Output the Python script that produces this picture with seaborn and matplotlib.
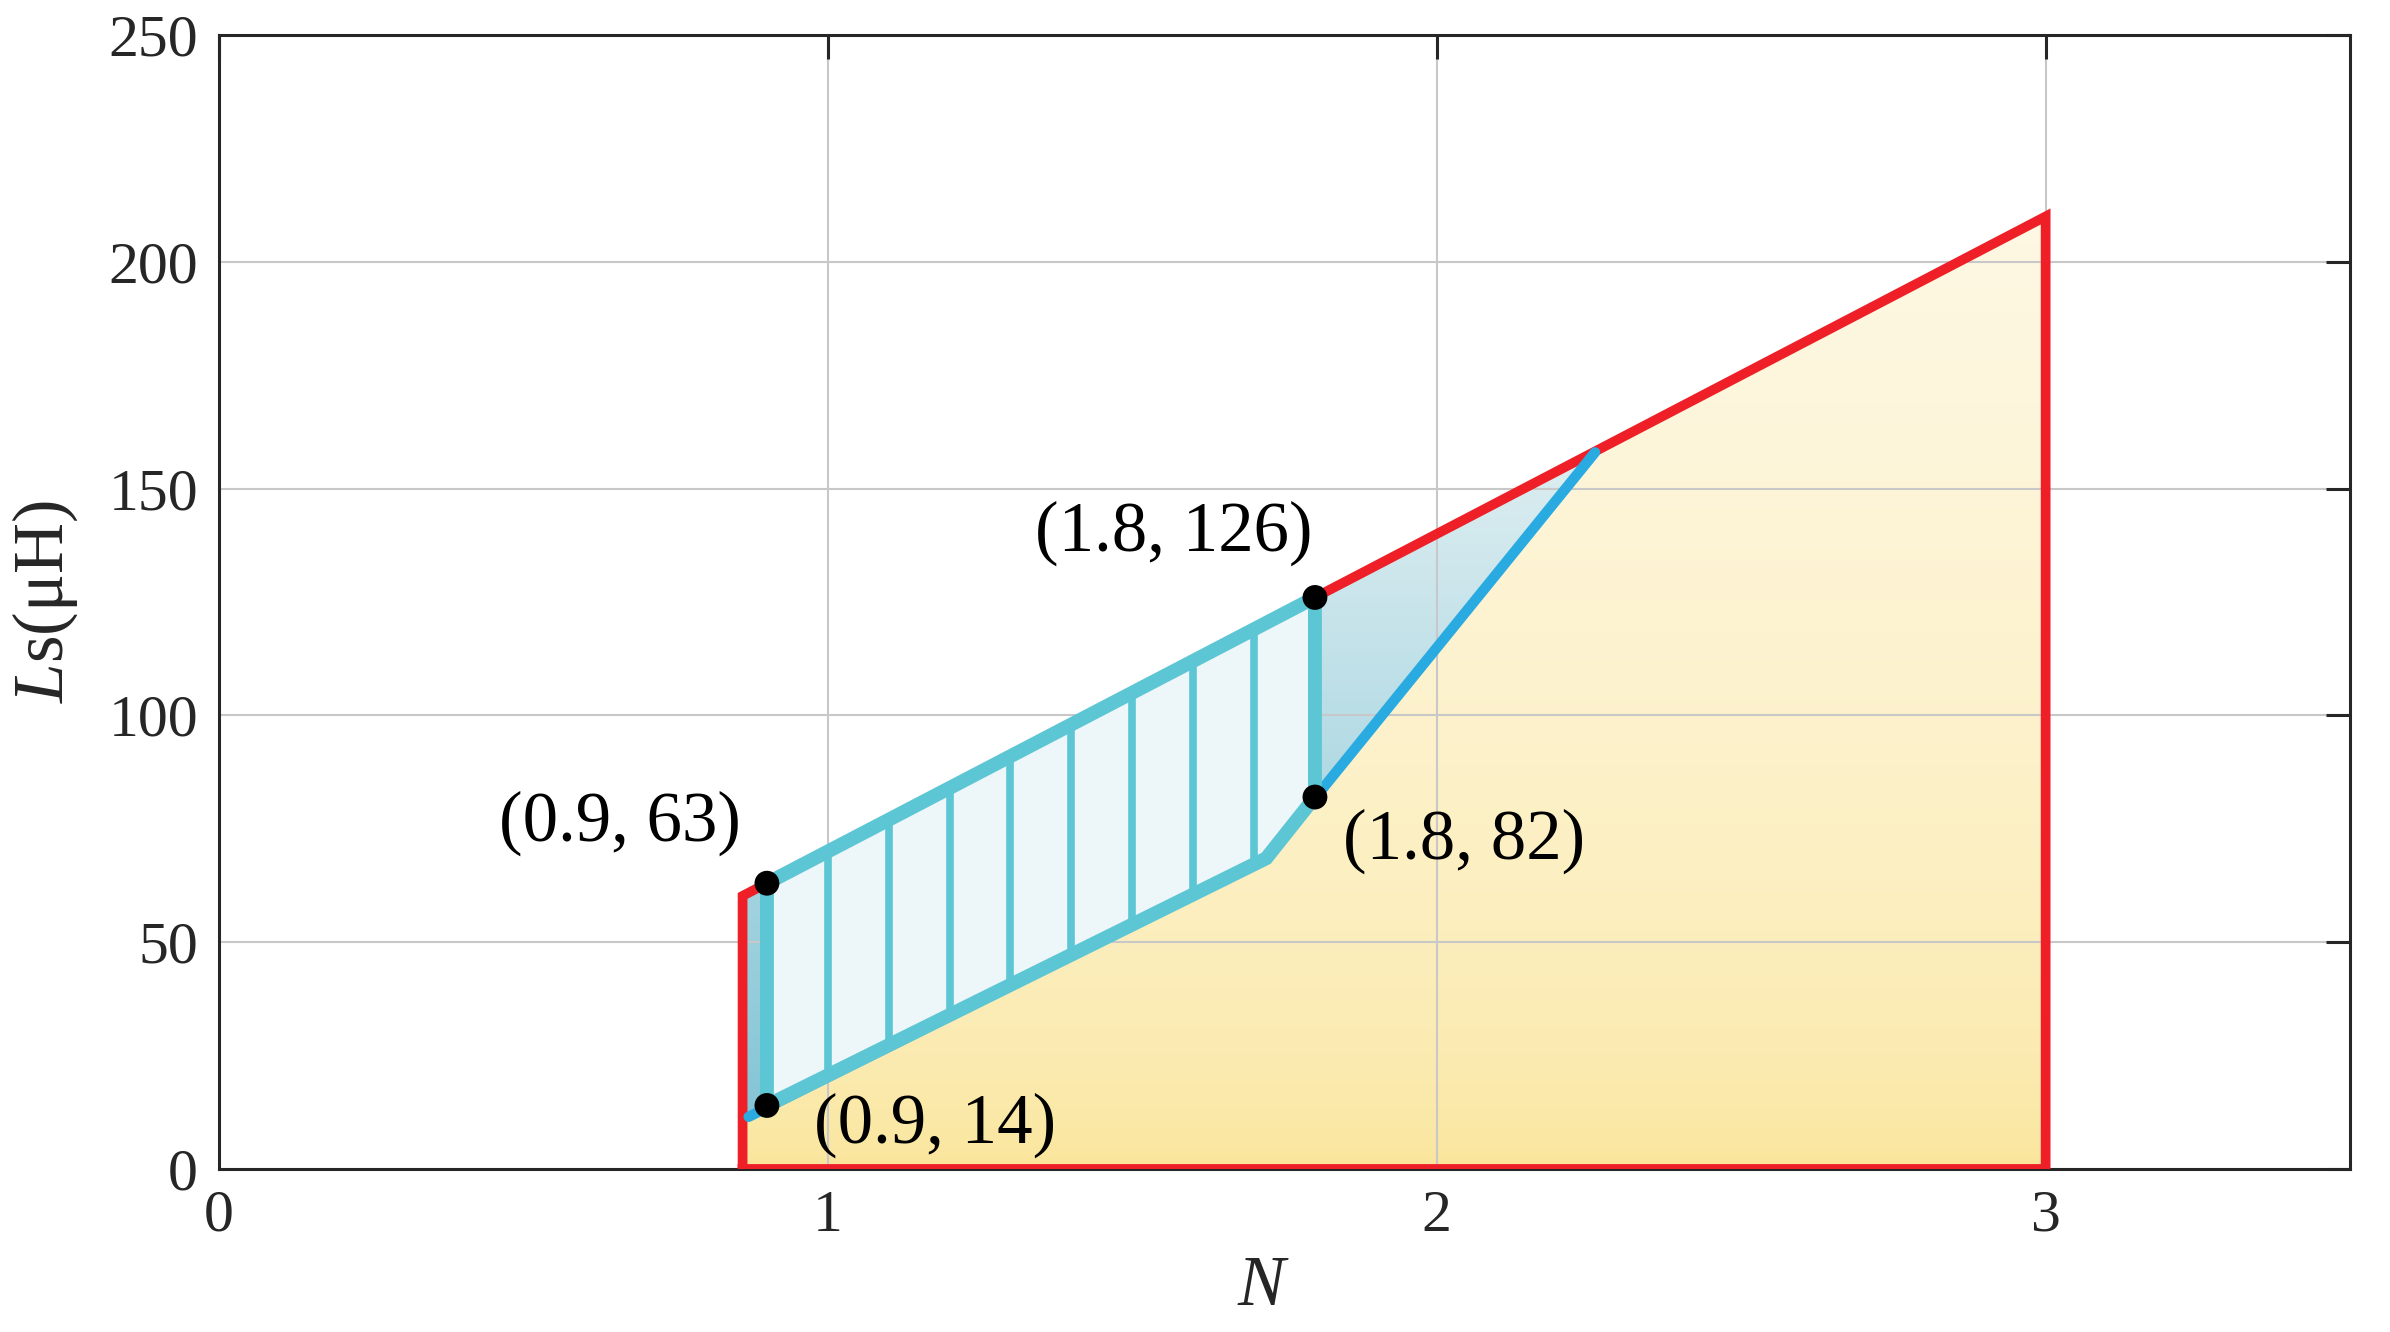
import numpy as np
import matplotlib
matplotlib.use('Agg')
import matplotlib.pyplot as plt
from matplotlib.colors import to_rgb
from matplotlib.patches import Polygon
import seaborn as sns

# outer region (red outline, yellow fill)
red_N = [0.86, 0.86, 3.0, 3.0, 0.86]
red_Ls = [0, 60.2, 210, 0, 0]

# blue boundary line
blue_N = [0.87, 1.72, 2.26]
blue_Ls = [11.5, 68.5, 158]

# blue shaded region: blue line below, red edge above
blue_reg_N = [0.86, 0.87, 1.72, 2.26, 0.86]
blue_reg_Ls = [11.5, 11.5, 68.5, 158, 60.2]

# hatched (cyan) region
cyan_N = [0.9, 0.9, 1.8, 1.8, 1.72]
cyan_Ls = [14, 63, 126, 82, 68.5]
hatch_N = [1.0, 1.1, 1.2, 1.3, 1.4, 1.5, 1.6, 1.7]

# marked points
pt_N = [0.9, 0.9, 1.8, 1.8]
pt_Ls = [63, 14, 126, 82]
pt_text = ['(0.9, 63)', '(0.9, 14)', '(1.8, 126)', '(1.8, 82)']
pt_offset = [(-19, 43), (34, -14), (-2, 46), (20, -32)]
pt_ha = ['right', 'left', 'right', 'left']

x_ticks = [0, 1, 2, 3]
y_ticks = [0, 50, 100, 150, 200, 250]

RED = '#EE1F26'
BLUE = '#29ABE2'
CYAN = '#5DC6D4'

sns.set_theme(style='white')
plt.rcParams['font.family'] = ['Liberation Serif', 'DejaVu Serif']
plt.rcParams['mathtext.fontset'] = 'custom'
plt.rcParams['mathtext.rm'] = 'Liberation Serif'
plt.rcParams['mathtext.it'] = 'Liberation Serif:italic'


def gradient_fill(ax, xs, ys, c_bottom, c_top, gamma, z):
    poly = Polygon(list(zip(xs, ys)), closed=True, facecolor='none', edgecolor='none')
    ax.add_patch(poly)
    t = np.linspace(0, 1, 256)[:, None] ** gamma
    c0 = np.array(to_rgb(c_bottom))
    c1 = np.array(to_rgb(c_top))
    img = c0 + (c1 - c0) * t[..., None]
    im = ax.imshow(img, extent=[min(xs), max(xs), min(ys), max(ys)], origin='lower',
                   aspect='auto', interpolation='bilinear', zorder=z)
    im.set_clip_path(poly)


fig, ax = plt.subplots(figsize=(23.9, 13.32), dpi=100)
fig.subplots_adjust(left=0.0916, right=0.9833, bottom=0.1224, top=0.9737)

gradient_fill(ax, red_N, red_Ls, '#FAE496', '#FEF8E4', 0.5, 0.5)
gradient_fill(ax, blue_reg_N, blue_reg_Ls, '#84C5D6', '#DDEEF1', 1.0, 0.6)

sns.lineplot(x=red_N, y=red_Ls, color=RED, lw=7, sort=False, estimator=None, ax=ax,
             zorder=3, solid_capstyle='projecting', solid_joinstyle='miter')
sns.lineplot(x=blue_N, y=blue_Ls, color=BLUE, lw=7.5, sort=False, estimator=None, ax=ax,
             zorder=3.5)

cyan_patch = Polygon(list(zip(cyan_N, cyan_Ls)), closed=True, facecolor='#EDF6F9',
                     edgecolor=CYAN, lw=10, joinstyle='miter', zorder=4)
ax.add_patch(cyan_patch)
hatch = ax.vlines(hatch_N, 0, 250, colors=CYAN, lw=5.5, zorder=4.1)
hatch.set_clip_path(cyan_patch)

sns.scatterplot(x=pt_N, y=pt_Ls, color='black', s=320, edgecolor='none', ax=ax, zorder=5)
for n, ls, txt, off, ha in zip(pt_N, pt_Ls, pt_text, pt_offset, pt_ha):
    ax.annotate(txt, (n, ls), xytext=off, textcoords='offset points', ha=ha, va='center',
                fontsize=51, color='black', zorder=6)

ax.set_xlim(0, 3.5)
ax.set_ylim(0, 250)
ax.set_xticks(x_ticks)
ax.set_yticks(y_ticks)
ax.set_axisbelow('line')
ax.grid(True, color='#C8C8C8', lw=1.5)
ax.tick_params(direction='in', length=17, width=2.2, top=True, right=True,
               labelsize=43, pad=15, color='#262626', labelcolor='#262626')
for s in ax.spines.values():
    s.set_visible(True)
    s.set_color('#262626')
    s.set_linewidth(2.2)

ax.set_xlabel(r'$\mathit{N}$', fontsize=51, color='#262626')
ax.set_ylabel(r'$\mathit{L}$s(μH)', fontsize=51, color='#262626')
ax.xaxis.set_label_coords(0.49, -0.076)
ax.yaxis.set_label_coords(-0.065, 0.5)

fig.savefig('out.png', dpi=100)
